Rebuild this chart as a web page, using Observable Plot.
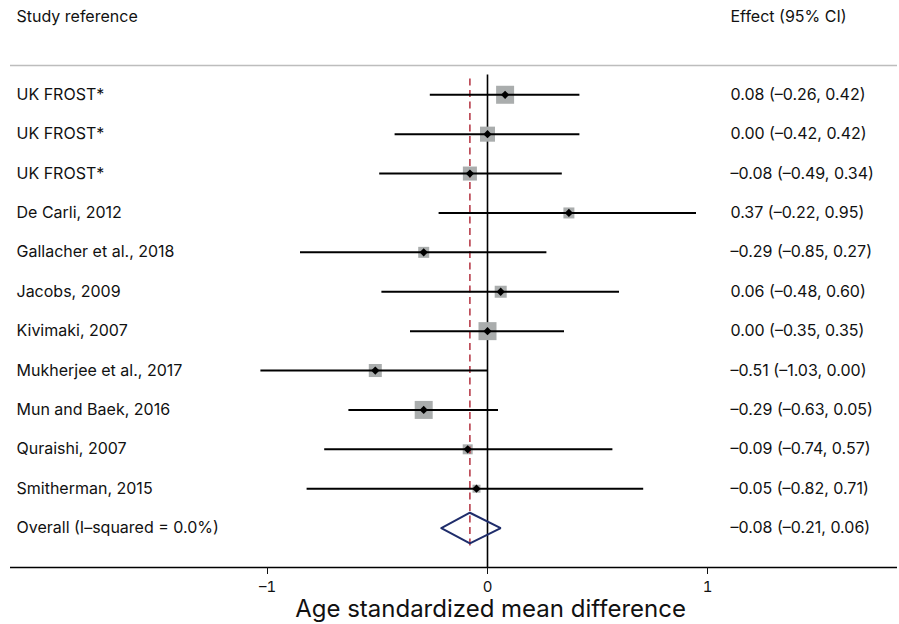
<!DOCTYPE html>
<html>
<head>
<meta charset="utf-8">
<script src="https://cdn.jsdelivr.net/npm/d3@7"></script>
<script src="https://cdn.jsdelivr.net/npm/@observablehq/plot@0.6"></script>
<style>
  html, body { margin: 0; padding: 0; background: #fff; }
  svg { display: block; }
</style>
</head>
<body>
<div id="chart"></div>
<script>
// ---- data ----
const studies = ["UK FROST*", "UK FROST*", "UK FROST*", "De Carli, 2012", "Gallacher et al., 2018",
  "Jacobs, 2009", "Kivimaki, 2007", "Mukherjee et al., 2017", "Mun and Baek, 2016",
  "Quraishi, 2007", "Smitherman, 2015"];
const estimates = [0.08, 0.00, -0.08, 0.37, -0.29, 0.06, 0.00, -0.51, -0.29, -0.09, -0.05];
const lower     = [-0.26, -0.42, -0.49, -0.22, -0.85, -0.48, -0.35, -1.03, -0.63, -0.74, -0.82];
const upper     = [0.42, 0.42, 0.34, 0.95, 0.27, 0.60, 0.35, 0.00, 0.05, 0.57, 0.71];
const weights   = [15.3, 10.7, 9.3, 5.7, 5.7, 6.8, 15.3, 8.0, 15.3, 4.7, 3.0];
const overallLabel = "Overall (I\u2013squared = 0.0%)";
const overallEst = -0.08, overallLow = -0.21, overallHigh = 0.06;
const xTicks = [-1, 0, 1];
const headers = ["Study reference", "Effect (95% CI)"];
const xLabel = "Age standardized mean difference";

// ---- derived tables ----
const dash = v => (v < 0 ? "\u2013" : "") + Math.abs(v);
const fmt = v => (v < 0 ? "\u2013" : "") + d3.format(".2f")(Math.abs(v));
const ciText = (e, l, h) => `${fmt(e)} (${fmt(l)}, ${fmt(h)})`;
const rows = studies.map((s, i) => ({
  row: i, study: s, est: estimates[i], lo: lower[i], hi: upper[i], w: weights[i],
  label: ciText(estimates[i], lower[i], upper[i])
}));
const overallRow = studies.length;
const overall = { row: overallRow, study: overallLabel, est: overallEst, lo: overallLow, hi: overallHigh,
  label: ciText(overallEst, overallLow, overallHigh) };
const textRows = [...rows, overall];
const dh = 0.39;
const diamond = [
  { x: overall.lo, y: overallRow }, { x: overall.est, y: overallRow - dh },
  { x: overall.hi, y: overallRow }, { x: overall.est, y: overallRow + dh },
  { x: overall.lo, y: overallRow }
];
const headerRow = -1.97;
const ruleRow = -0.74;
const axisRow = overallRow + 1;

const font = "Inter, 'Liberation Sans', Arial, sans-serif";
const fs = 16;

const chart = Plot.plot({
  width: 899,
  height: 624,
  marginLeft: 10,
  marginRight: 2,
  marginTop: 0,
  marginBottom: 57,
  style: { fontFamily: font, fontSize: fs + "px", background: "#fff", color: "#111" },
  x: { domain: [-477 / 220, 410 / 220] },
  y: { domain: [-2.393, axisRow], reverse: true, axis: null },
  r: { type: "sqrt", domain: [0, 15.3], range: [0, 10.16] },
  marks: [
    Plot.ruleY([ruleRow], { stroke: "#bdbdbd", strokeWidth: 1.5 }),
    Plot.text([headers[0]], { frameAnchor: "left", y: () => headerRow, text: d => d, dx: 6, textAnchor: "start", lineAnchor: "middle", fontSize: fs, fill: "#111" }),
    Plot.text([headers[1]], { frameAnchor: "right", y: () => headerRow, text: d => d, dx: -167, textAnchor: "start", lineAnchor: "middle", fontSize: fs, fill: "#111" }),
    Plot.ruleX([0], { y1: -0.5, y2: axisRow, stroke: "#000", strokeWidth: 1.6 }),
    Plot.dot(rows, { x: "est", y: "row", r: "w", symbol: "square", fill: "#aaadad", stroke: "none" }),
    Plot.ruleX([overallEst], { y1: -0.4, y2: overallRow + 0.5, stroke: "#b3303f", strokeWidth: 1.5, strokeDasharray: "7,4.5" }),
    Plot.ruleY(rows, { y: "row", x1: "lo", x2: "hi", stroke: "#000", strokeWidth: 2 }),
    Plot.dot(rows, { x: "est", y: "row", symbol: "square", rotate: 45, r: 3.3, fill: "#000", stroke: "none" }),
    Plot.line(diamond, { x: "x", y: "y", stroke: "#1f2d6b", strokeWidth: 2, strokeLinejoin: "miter" }),
    Plot.text(textRows, { frameAnchor: "left", y: "row", text: "study", dx: 6, textAnchor: "start", lineAnchor: "middle", fontSize: fs, fill: "#111" }),
    Plot.text(textRows, { frameAnchor: "right", y: "row", text: "label", dx: -167, textAnchor: "start", lineAnchor: "middle", fontSize: fs, fill: "#111" }),
    Plot.ruleY([axisRow], { stroke: "#000", strokeWidth: 1.6 }),
    Plot.axisX({ ticks: xTicks, tickSize: 7, tickPadding: 7, fontSize: 15, label: null, tickFormat: dash }),
    Plot.text([xLabel], { x: () => 0, frameAnchor: "bottom", text: d => d, dy: 42, dx: 3, textAnchor: "middle", lineAnchor: "middle", fontSize: 24, fill: "#111" })
  ]
});
document.getElementById("chart").appendChild(chart);
</script>
</body>
</html>
